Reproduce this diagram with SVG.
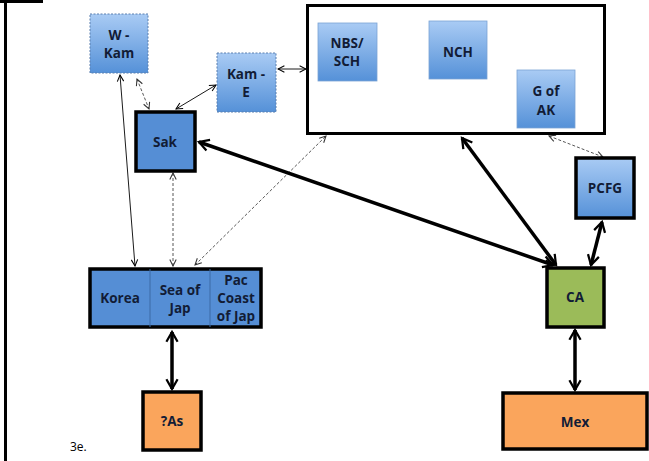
<svg xmlns="http://www.w3.org/2000/svg" width="649" height="461" viewBox="0 0 649 461">
<defs>
<linearGradient id="g" x1="0" y1="0" x2="0" y2="1">
<stop offset="0" stop-color="#A9CBF4"/>
<stop offset="1" stop-color="#5591D8"/>
</linearGradient>
<marker id="ah" viewBox="0 0 10 10" refX="9" refY="5" markerWidth="8" markerHeight="8" markerUnits="userSpaceOnUse" orient="auto-start-reverse">
<path d="M1,1 L9,5 L1,9" fill="none" stroke="#000" stroke-width="1.3"/>
</marker>
<marker id="ahd" viewBox="0 0 10 10" refX="9" refY="5" markerWidth="8" markerHeight="8" markerUnits="userSpaceOnUse" orient="auto-start-reverse">
<path d="M1,1 L9,5 L1,9" fill="none" stroke="#333" stroke-width="1.3"/>
</marker>
<marker id="aht" viewBox="0 0 10 10" refX="8" refY="5" markerWidth="4" markerHeight="4" orient="auto-start-reverse">
<path d="M1,1 L8,5 L1,9" fill="none" stroke="#000" stroke-width="1.6"/>
</marker>
</defs>
<style>
.lt{fill:url(#g);stroke:#5a7fae;stroke-width:1;stroke-dasharray:2 1.5}
.in{fill:url(#g);stroke:#7aa3d4;stroke-width:0.8}
.bk{stroke:#000;stroke-width:3.5}
.t{font-family:"Open Sans","Liberation Sans",sans-serif;font-weight:bold;font-size:13.5px;fill:#121c36;text-anchor:middle}
.thin{stroke:#000;stroke-width:0.9;fill:none;marker-start:url(#ah);marker-end:url(#ah)}
.dash{stroke:#444;stroke-width:0.9;fill:none;stroke-dasharray:3 2;marker-start:url(#ahd);marker-end:url(#ahd)}
.thick{stroke:#000;stroke-width:3.5;fill:none;marker-start:url(#aht);marker-end:url(#aht)}
</style>
<g id="frame">
<line x1="0" y1="1.5" x2="43" y2="1.5" stroke="#000" stroke-width="3"/>
<line x1="5.5" y1="0" x2="5.5" y2="461" stroke="#000" stroke-width="3"/>
</g>
<g id="connectors">
<line class="thin" x1="120" y1="75" x2="135" y2="266"/>
<line class="dash" x1="137" y1="79" x2="149" y2="109"/>
<line class="thin" x1="216" y1="85" x2="176" y2="109"/>
<line class="thin" x1="278" y1="69" x2="306" y2="69"/>
<line class="dash" x1="173" y1="173" x2="173" y2="266"/>
<line class="dash" x1="195" y1="265" x2="326" y2="136"/>
<line class="dash" x1="549" y1="136" x2="603" y2="157"/>
<line class="thick" x1="199" y1="142" x2="553" y2="265"/>
<line class="thick" x1="462" y1="138" x2="556" y2="265"/>
<line class="thick" x1="602" y1="222" x2="591" y2="265"/>
<line class="thick" x1="172" y1="332" x2="172" y2="389"/>
<line class="thick" x1="575" y1="330" x2="575" y2="390"/>
</g>
<g id="W-Kam">
<rect class="lt" x="90" y="14" width="58" height="59"/>
<text class="t" x="119" y="40">W -</text>
<text class="t" x="119" y="58">Kam</text>
</g>
<g id="Kam-E">
<rect class="lt" x="217" y="53" width="59" height="59"/>
<text class="t" x="246" y="79">Kam -</text>
<text class="t" x="246" y="97">E</text>
</g>
<g id="group-box">
<rect x="307.5" y="5.5" width="297" height="128" fill="#fff" stroke="#000" stroke-width="3"/>
</g>
<g id="NBS-SCH">
<rect class="in" x="318" y="23" width="59" height="58"/>
<text class="t" x="347" y="48">NBS/</text>
<text class="t" x="347" y="66">SCH</text>
</g>
<g id="NCH">
<rect class="in" x="429" y="21" width="58" height="58"/>
<text class="t" x="458" y="57">NCH</text>
</g>
<g id="G-of-AK">
<rect class="in" x="517" y="70" width="58" height="58"/>
<text class="t" x="546" y="96">G of</text>
<text class="t" x="546" y="115">AK</text>
</g>
<g id="Sak">
<rect class="bk" x="136" y="112" width="59" height="59" fill="#558ED5"/>
<text class="t" x="165" y="147">Sak</text>
</g>
<g id="PCFG">
<rect class="bk" x="576" y="158" width="58" height="60" fill="url(#g)"/>
<text class="t" x="605" y="193">PCFG</text>
</g>
<g id="CA">
<rect class="bk" x="547" y="268" width="57" height="59" fill="#9BBB59"/>
<text class="t" x="575" y="302">CA</text>
</g>
<g id="Asia-coast">
<rect class="bk" x="90" y="269" width="171" height="58" fill="#558ED5"/>
<line x1="150" y1="269" x2="150" y2="327" stroke="#3d6aa6" stroke-width="1"/>
<line x1="210" y1="269" x2="210" y2="327" stroke="#3d6aa6" stroke-width="1"/>
<text class="t" x="120" y="303">Korea</text>
<text class="t" x="180" y="295">Sea of</text>
<text class="t" x="180" y="313">Jap</text>
<text class="t" x="236" y="285">Pac</text>
<text class="t" x="236" y="303">Coast</text>
<text class="t" x="236" y="321">of Jap</text>
</g>
<g id="As">
<rect class="bk" x="143" y="392" width="58" height="58" fill="#FAA55C"/>
<text class="t" x="172" y="426">?As</text>
</g>
<g id="Mex">
<rect class="bk" x="503" y="393" width="144" height="56" fill="#FAA55C"/>
<text class="t" x="575" y="427">Mex</text>
</g>
<text x="70" y="451" font-family="'Open Sans','Liberation Sans',sans-serif" font-size="12" fill="#000">3e.</text>
</svg>
